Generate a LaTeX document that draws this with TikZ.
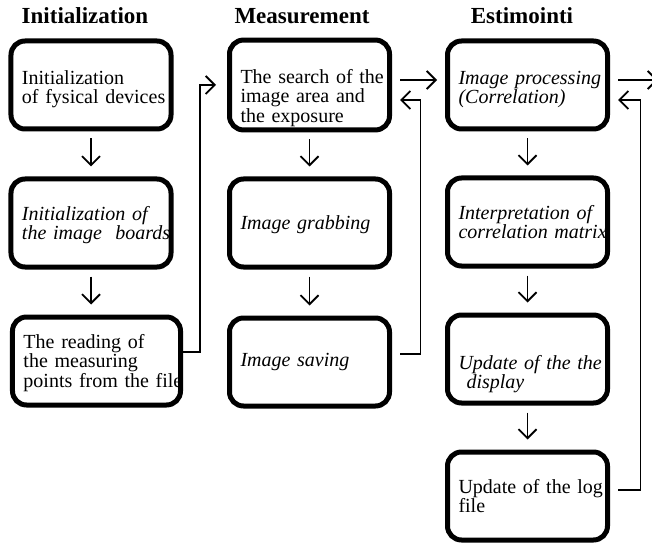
\documentclass[tikz,border=0pt]{standalone}
\usepackage{fontspec}
\setmainfont{Liberation Serif}
\usetikzlibrary{arrows.meta,positioning,calc}

\tikzset{
  kasten/.style={draw, line width=5bp, rounded corners=14bp, minimum width=160bp, minimum height=88bp,
    text width=138bp, inner xsep=10bp, align=left, font=\fontsize{20bp}{19.5bp}\selectfont,
    execute at begin node={\rightskip=-40bp plus 1fil\hyphenpenalty=10000}},
  kursiv/.style={font=\fontsize{20bp}{19.5bp}\selectfont\itshape},
  %erste Zeile hoeher machen, damit der Text tiefer im Kasten sitzt
  tief/.style={execute at begin node={\rule{0pt}{#1}}},
  titel/.style={font=\fontsize{23bp}{23bp}\selectfont\bfseries},
  pfeil/.style={line width=1.8bp, -{Straight Barb[length=9bp,width=18bp]}},
}

\begin{document}
\begin{tikzpicture}[x=1bp,y=-1bp]
\useasboundingbox (0,0) rectangle (652,544);
%Ueberschriften der drei Spalten
\node[titel] (tInit) at (85,16) {Initialization};
\node[titel] (tMess) at (302,16) {Measurement};
\node[titel] (tEst) at (522,16) {Estimointi};
%Spalte 1
\node[kasten,tief=22bp] (init1) at (91,85) {Initialization\\of fysical devices};
\node[kasten,kursiv,tief=18bp] (init2) at (91,223) {Initialization of\\the image~~boards};
\node[kasten,tief=18bp,minimum width=168bp,text width=146bp] (init3) at (96.5,361) {The reading of\\the measuring\\points from the file};
%Spalte 2
\node[kasten,tief=40bp] (mess1) at (309.5,85) {The search of the\\image area and\\the exposure};
\node[kasten,kursiv,tief=18bp] (mess2) at (309.5,223) {Image grabbing};
\node[kasten,kursiv] (mess3) at (309.5,362) {Image saving};
%Spalte 3
\node[kasten,kursiv,tief=22bp] (est1) at (527.5,85) {Image processing\\(Correlation)};
\node[kasten,kursiv] (est2) at (527.5,222) {Interpretation of\\correlation matrix};
\node[kasten,kursiv,tief=44bp] (est3) at (527.5,359) {Update of the the\\\hspace*{0.4em}display};
\node[kasten] (est4) at (527.5,496) {Update of the log\\file};
\coordinate (aus) at (658,80);
%Pfeile nach unten
\draw[pfeil,shorten <=7bp,shorten >=10bp] (init1.south) -- (init2.north);
\draw[pfeil,shorten <=7bp,shorten >=10bp] (init2.south) -- (init2.south |- init3.north);
\draw[pfeil,shorten <=7bp,shorten >=10bp] (mess1.south) -- (mess2.north);
\draw[pfeil,shorten <=7bp,shorten >=10bp] (mess2.south) -- (mess3.north);
\draw[pfeil,shorten <=7bp,shorten >=10bp] (est1.south) -- (est2.north);
\draw[pfeil,shorten <=7bp,shorten >=10bp] (est2.south) -- (est3.north);
\draw[pfeil,shorten <=7bp,shorten >=10bp] (est3.south) -- (est4.north);
%Verbindungen zwischen den Spalten
\draw[pfeil,shorten >=11bp] ([yshift=9bp]init3.east) -- ++(17,0) |- (mess1.west);
\draw[pfeil,shorten <=8bp,shorten >=8bp] ([yshift=5bp]mess1.east) -- ([yshift=5bp]est1.west);
\draw[pfeil,shorten <=8bp,shorten >=8bp] ([yshift=8bp]mess3.east) -- ++(28.5,0) |- ([yshift=-15bp]mess1.east);
\draw[pfeil,shorten <=8bp] ([yshift=5bp]est1.east) -- (aus);
\draw[pfeil,shorten <=8bp,shorten >=8bp] ([yshift=6bp]est4.east) -- ++(30.5,0) |- ([yshift=-15bp]est1.east);
\end{tikzpicture}
\end{document}
